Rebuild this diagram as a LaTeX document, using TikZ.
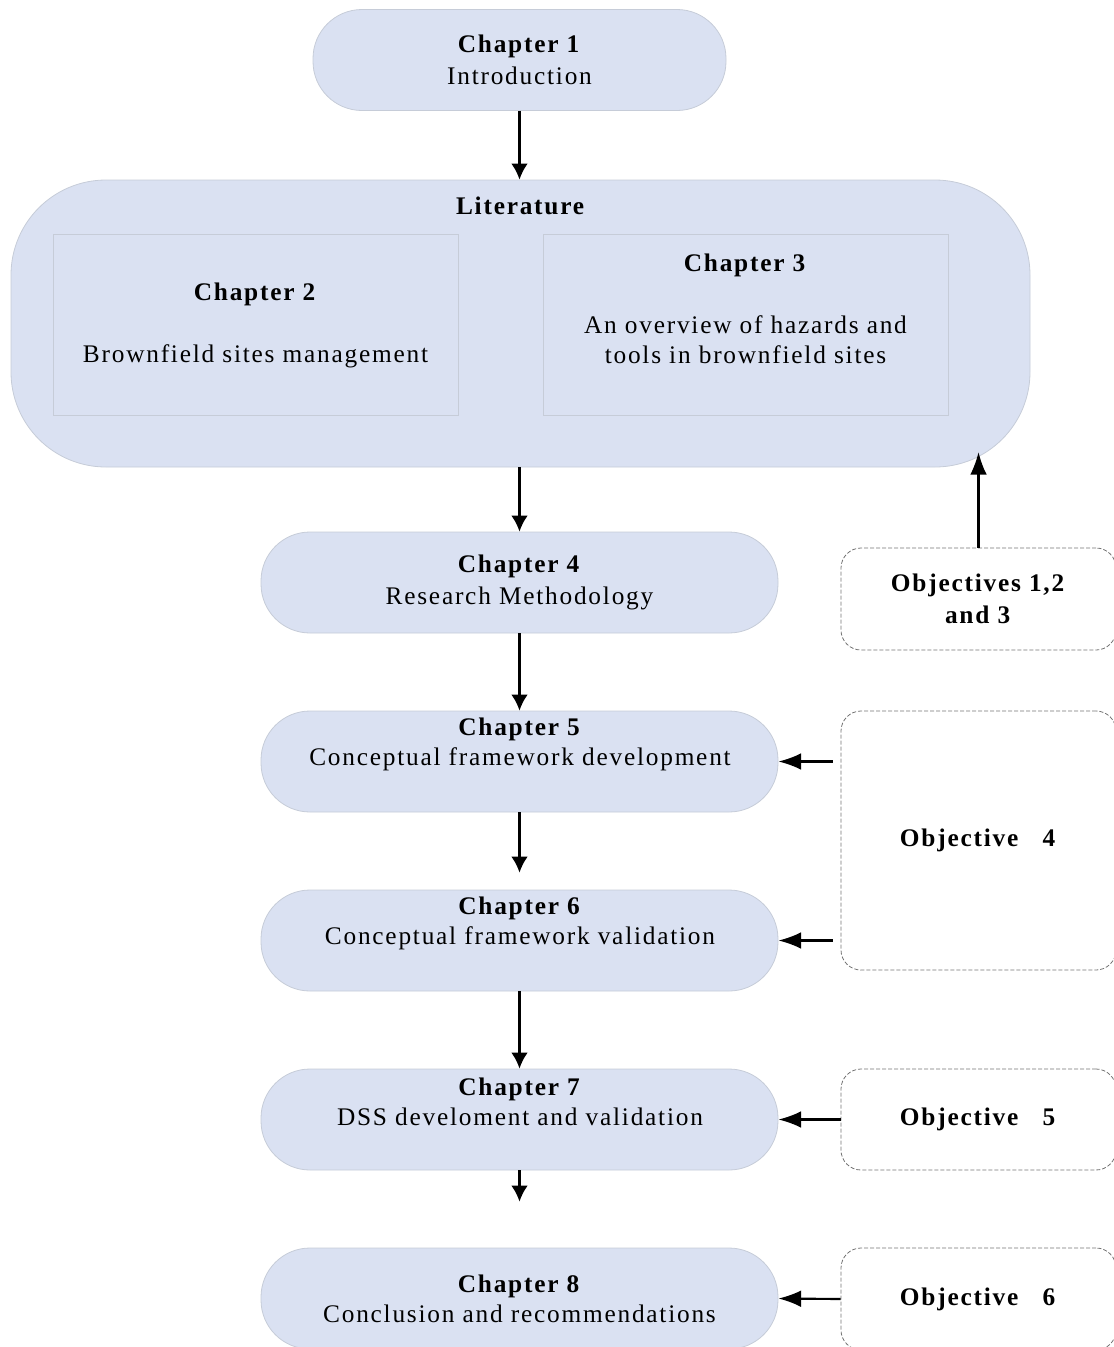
\documentclass[tikz,border=0pt]{standalone}
\usepackage{fontspec}
\setmainfont{Liberation Serif}[LetterSpace=7]
\usetikzlibrary{arrows.meta}
\newcommand\pxu{0.75pt}
\definecolor{boxfill}{RGB}{218,225,242}
\definecolor{boxline}{RGB}{198,204,216}
\definecolor{dashline}{RGB}{115,115,115}
\begin{document}
\begin{tikzpicture}[x=0.75pt,y=-0.75pt,
  every node/.style={font=\fontsize{19}{22.5}\selectfont, align=center},
  wide/.style={font=\fontsize{19}{24}\selectfont},
  chapbox/.style={draw=boxline, line width=0.6pt, fill=boxfill,
    rounded corners=49*\pxu, minimum height=101*\pxu, inner sep=0pt},
  litbox/.style={draw=boxline, line width=0.6pt, fill=boxfill,
    rounded corners=95*\pxu, minimum width=1019*\pxu, minimum height=287*\pxu, inner sep=0pt},
  subbox/.style={draw=boxline, line width=0.6pt, fill=boxfill,
    minimum width=405*\pxu, minimum height=181*\pxu, inner sep=0pt},
  objbox/.style={draw=dashline, line width=0.6pt, dash pattern=on 3pt off 1.5pt,
    rounded corners=20*\pxu, minimum width=275*\pxu, inner sep=0pt},
  txt/.style={inner sep=0pt},
  downarrow/.style={line width=1.6pt, -{Latex[length=12pt,width=12.5pt]}},
  sidearrow/.style={line width=1.6pt, -{Latex[length=17pt,width=12.5pt]}}
]
\useasboundingbox (0,0) rectangle (1114,1347);

% chapter boxes
\node[chapbox, wide, minimum width=413*\pxu] (ch1) at (519.5,60)
  {\textbf{Chapter 1}\\Introduction};
\node[litbox] (lit) at (520.5,323.5) {};
\node[txt] (littitle) at (521,206) {\textbf{Literature}};
\node[subbox] (ch2) at (255.5,324.5) {};
\node[subbox] (ch3) at (745.5,324.5) {};
\node[txt] (t2) at (255.5,325)
  {\textbf{Chapter 2}\\[24pt]Brownfield sites management};
\node[txt] (t3) at (745.5,309)
  {\textbf{Chapter 3}\\[24pt]An overview of hazards and\\tools in brownfield sites};
\node[chapbox, wide, minimum width=517*\pxu] (ch4) at (519.5,582.5)
  {\textbf{Chapter 4}\\Research Methodology};
\node[chapbox, minimum width=517*\pxu] (ch5) at (519.5,761.5) {};
\node[chapbox, minimum width=517*\pxu] (ch6) at (519.5,940.5) {};
\node[chapbox, minimum width=517*\pxu] (ch7) at (519.5,1119.5) {};
\node[chapbox, minimum width=517*\pxu] (ch8) at (519.5,1298.5)
  {\textbf{Chapter 8}\\Conclusion and recommendations};
\node[txt] (t5) at (520,744.5) {\textbf{Chapter 5}\\Conceptual framework development};
\node[txt] (t6) at (520,923.5) {\textbf{Chapter 6}\\Conceptual framework validation};
\node[txt] (t7) at (520,1102) {\textbf{Chapter 7}\\DSS develoment and validation};

% objective boxes
\node[objbox, wide, minimum height=102*\pxu] (o123) at (978.5,599)
  {\textbf{Objectives 1,2}\\\textbf{and 3}};
\node[objbox, minimum height=259*\pxu] (o4) at (978.5,840.5)
  {\textbf{Objective\ \ \ 4}};
\node[objbox, minimum height=101*\pxu] (o5) at (978.5,1119.5)
  {\textbf{Objective\ \ \ 5}};
\node[objbox, minimum height=102*\pxu] (o6) at (978.5,1299)
  {\textbf{Objective\ \ \ 6}};

% flow between chapters
\draw[downarrow] (ch1.south) -- (ch1.south |- lit.north);
\draw[downarrow] (lit.south -| ch4.north) -- (ch4.north);
\draw[downarrow] (ch4.south) -- (ch5.north);
\draw[downarrow, shorten >=12.75pt] (ch5.south) -- (ch6.north);
\draw[downarrow] (ch6.south) -- (ch7.north);
\draw[downarrow, shorten >=34.5pt] (ch7.south) -- (ch8.north);

% objectives feeding chapters
\coordinate (litcorner) at (978.5,452);
\draw[sidearrow] (o123.north) -- (litcorner);
\draw[sidearrow, shorten <=6pt] (o4.west |- ch5.east) -- (ch5.east);
\draw[sidearrow, shorten <=6pt] (o4.west |- ch6.east) -- (ch6.east);
\draw[sidearrow] (o5.west) -- (ch7.east);
\draw[sidearrow] (o6.west) -- (ch8.east);
\end{tikzpicture}
\end{document}
